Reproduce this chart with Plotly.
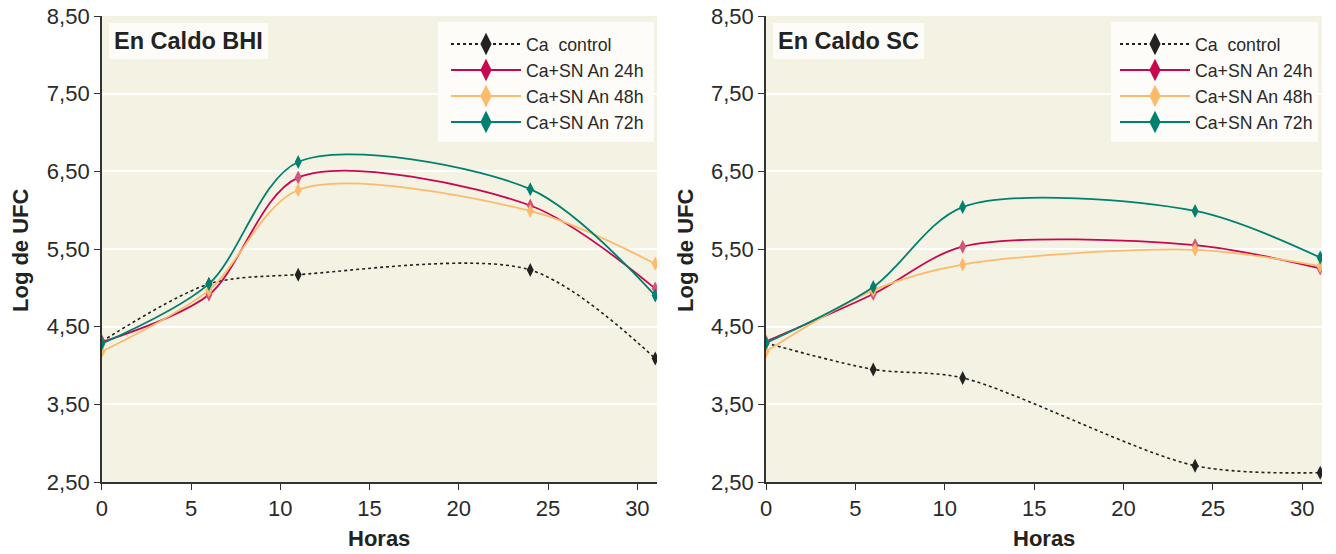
import plotly.graph_objects as go

hours = [0, 6, 11, 24, 31]

# En Caldo BHI
bhi_control = [4.31, 5.05, 5.17, 5.23, 4.09]
bhi_an24 = [4.30, 4.91, 6.42, 6.06, 4.99]
bhi_an48 = [4.18, 4.97, 6.26, 5.99, 5.31]
bhi_an72 = [4.28, 5.05, 6.62, 6.27, 4.90]

# En Caldo SC
sc_control = [4.29, 3.95, 3.84, 2.71, 2.62]
sc_an24 = [4.31, 4.92, 5.53, 5.55, 5.25]
sc_an48 = [4.18, 4.97, 5.30, 5.49, 5.28]
sc_an72 = [4.29, 5.01, 6.04, 5.99, 5.39]

series_names = ["Ca  control", "Ca+SN An 24h", "Ca+SN An 48h", "Ca+SN An 72h"]
line_colors = ["#222222", "#C8074F", "#FDBA6B", "#00806F"]
marker_colors = ["#222222", "#D4557A", "#FDBA6B", "#00806F"]
dashes = ["dot", "solid", "solid", "solid"]

panel_titles = ["En Caldo BHI", "En Caldo SC"]
y_ticks = [2.5, 3.5, 4.5, 5.5, 6.5, 7.5, 8.5]
x_ticks = [0, 5, 10, 15, 20, 25, 30]

W, H = 1336, 554
PLOT_T, PLOT_B = 16, 482
ph = PLOT_B - PLOT_T


def px(x):
    return x / W


def py(y):
    return 1 - (y - PLOT_T) / ph


fig = go.Figure()

panels = [
    (bhi_control, bhi_an24, bhi_an48, bhi_an72),
    (sc_control, sc_an24, sc_an48, sc_an72),
]

narrow = "Liberation Sans Narrow, Arial Narrow, Liberation Sans, Arial, sans-serif"
sans = "Liberation Sans, Arial, Helvetica, sans-serif"

for p, data in enumerate(panels):
    xa = "x" if p == 0 else "x2"
    ya = "y" if p == 0 else "y2"
    lg = "legend" if p == 0 else "legend2"
    for i, vals in enumerate(data):
        fig.add_trace(go.Scatter(
            x=hours, y=vals, xaxis=xa, yaxis=ya,
            mode="lines+markers",
            line=dict(color=line_colors[i], width=1.8 if i else 1.6,
                      dash=dashes[i], shape="spline", smoothing=0.85),
            marker=dict(symbol="diamond-tall", size=10, color=marker_colors[i]),
            showlegend=False, name=series_names[i], hoverinfo="skip",
        ))
    for i in range(4):
        fig.add_trace(go.Scatter(
            x=[None], y=[None], xaxis=xa, yaxis=ya,
            mode="lines+markers", name=series_names[i], legend=lg,
            line=dict(color=line_colors[i], width=2, dash=dashes[i]),
            marker=dict(symbol="diamond-tall", size=16, color=line_colors[i]),
            showlegend=True,
        ))

doms = [(px(101.8), px(657)), (px(766), px(1322))]

axis_common = dict(
    showline=True, linecolor="#333333", linewidth=1.5,
    ticks="outside", ticklen=6, tickcolor="#333333", tickwidth=1.2,
    zeroline=False,
)

legend_common = dict(
    xanchor="left", yanchor="top", bgcolor="rgba(0,0,0,0)", borderwidth=0,
    font=dict(family=narrow, size=17.7, color="#2a2a2a"),
    itemwidth=70, tracegroupgap=0,
)

fig.update_layout(
    xaxis=dict(domain=doms[0], range=[0, 31.1], tickvals=x_ticks, showgrid=False,
               tickfont=dict(family=narrow, size=22, color="#2a2a2a"), anchor="y", **axis_common),
    xaxis2=dict(domain=doms[1], range=[0, 31.1], tickvals=x_ticks, showgrid=False,
                tickfont=dict(family=narrow, size=22, color="#2a2a2a"), anchor="y2", **axis_common),
    yaxis=dict(domain=[0, 1], range=[2.5, 8.5], tickvals=y_ticks, tickformat=".2f",
               showgrid=True, gridcolor="white", gridwidth=1.5,
               tickfont=dict(family=sans, size=22, color="#2a2a2a"), anchor="x", **axis_common),
    yaxis2=dict(domain=[0, 1], range=[2.5, 8.5], tickvals=y_ticks, tickformat=".2f",
                showgrid=True, gridcolor="white", gridwidth=1.5,
                tickfont=dict(family=sans, size=22, color="#2a2a2a"), anchor="x2", **axis_common),
    separators=",.",
    width=W, height=H,
    margin=dict(l=0, r=0, t=PLOT_T, b=H - PLOT_B, autoexpand=False),
    paper_bgcolor="white",
    plot_bgcolor="#F4F2E2",
    legend=dict(x=px(446), y=py(26), **legend_common),
    legend2=dict(x=px(1115), y=py(26), **legend_common),
)

shapes = []
for (x0, x1) in [(438, 654), (1111, 1318)]:
    shapes.append(dict(type="rect", xref="paper", yref="paper",
                       x0=px(x0), x1=px(x1), y0=py(142), y1=py(22),
                       fillcolor="#FDFCF8", line=dict(width=0), layer="above"))
fig.update_layout(shapes=shapes)

annotations = []
for title, bx in zip(panel_titles, [109, 773]):
    annotations.append(dict(
        text="<b>" + title + "</b>", xref="paper", yref="paper",
        x=px(bx), y=py(23), xanchor="left", yanchor="top", showarrow=False,
        font=dict(family=sans, size=23.5, color="#222222"),
        bgcolor="#FDFCF8", bordercolor="#FDFCF8", borderwidth=0, borderpad=5,
    ))

for cx in [(101.8 + 657) / 2, (766 + 1322) / 2]:
    annotations.append(dict(
        text="<b>Horas</b>", xref="paper", yref="paper",
        x=px(cx), y=py(538), xanchor="center", yanchor="middle", showarrow=False,
        font=dict(family=sans, size=22, color="#222222"),
    ))
for lx in [20, 685]:
    annotations.append(dict(
        text="<b>Log de UFC</b>", xref="paper", yref="paper",
        x=px(lx), y=py(250), xanchor="center", yanchor="middle", showarrow=False,
        textangle=-90, font=dict(family=sans, size=22, color="#222222"),
    ))

fig.update_layout(annotations=annotations)

fig.write_html("out.html", config={"displayModeBar": False},
               post_script="document.body.style.margin='0';")
